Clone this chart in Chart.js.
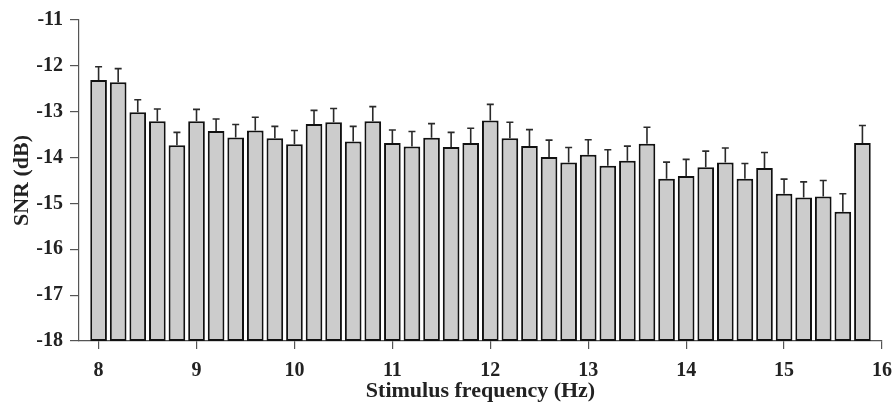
<!DOCTYPE html>
<html lang="en">
<head>
    <meta charset="UTF-8">
    <title>SNR by stimulus frequency</title>
    <script src="https://cdn.jsdelivr.net/npm/chart.js"></script>
    <style>
        html, body { margin: 0; padding: 0; background: #fff; }
        #wrap { width: 895px; height: 406px; position: relative; }
    </style>
</head>
<body>
    <div id="wrap"><canvas id="snrChart"></canvas></div>

    <script>
    // stimulus frequencies (Hz)
    const freqs = [8.0, 8.2, 8.4, 8.6, 8.8, 9.0, 9.2, 9.4, 9.6, 9.8,
                   10.0, 10.2, 10.4, 10.6, 10.8, 11.0, 11.2, 11.4, 11.6, 11.8,
                   12.0, 12.2, 12.4, 12.6, 12.8, 13.0, 13.2, 13.4, 13.6, 13.8,
                   14.0, 14.2, 14.4, 14.6, 14.8, 15.0, 15.2, 15.4, 15.6, 15.8];

    // mean SNR (dB)
    const snr = [-12.31, -12.36, -13.01, -13.21, -13.73, -13.21, -13.42, -13.56, -13.41, -13.58,
                 -13.71, -13.27, -13.23, -13.65, -13.21, -13.68, -13.76, -13.57, -13.77, -13.68,
                 -13.19, -13.58, -13.75, -13.99, -14.11, -13.94, -14.18, -14.07, -13.70, -14.46,
                 -14.40, -14.21, -14.11, -14.46, -14.23, -14.79, -14.87, -14.85, -15.18, -13.68];

    // standard error (dB), drawn upward only
    const sem = [0.29, 0.30, 0.27, 0.27, 0.28, 0.26, 0.26, 0.28, 0.29, 0.26,
                 0.30, 0.30, 0.30, 0.33, 0.32, 0.28, 0.33, 0.31, 0.32, 0.32,
                 0.35, 0.35, 0.36, 0.37, 0.33, 0.33, 0.35, 0.32, 0.36, 0.36,
                 0.36, 0.35, 0.32, 0.33, 0.34, 0.32, 0.34, 0.35, 0.39, 0.38];

    const yTicks = [-18, -17, -16, -15, -14, -13, -12, -11];
    const xTicks = [8, 9, 10, 11, 12, 13, 14, 15, 16];

    const yFloor = yTicks[0];
    const serif = "'Liberation Serif', 'Times New Roman', serif";

    const errorBars = {
        id: 'errorBars',
        afterDatasetsDraw(chart) {
            const ctx = chart.ctx;
            const yScale = chart.scales.y;
            const meta = chart.getDatasetMeta(0);
            ctx.save();
            ctx.strokeStyle = '#2a2a2a';
            ctx.lineWidth = 1.6;
            meta.data.forEach((bar, i) => {
                const top = yScale.getPixelForValue(snr[i]);
                const cap = yScale.getPixelForValue(snr[i] + sem[i]);
                ctx.beginPath();
                ctx.moveTo(bar.x, top);
                ctx.lineTo(bar.x, cap);
                ctx.moveTo(bar.x - 3.5, cap);
                ctx.lineTo(bar.x + 3.5, cap);
                ctx.stroke();
            });
            ctx.restore();
        }
    };

    new Chart(document.getElementById('snrChart'), {
        type: 'bar',
        data: {
            datasets: [{
                data: freqs.map((f, i) => ({ x: f, y: [yFloor, snr[i]] })),
                backgroundColor: '#cccccc',
                borderColor: '#111111',
                borderWidth: 2,
                borderSkipped: false,
                categoryPercentage: 1.0,
                barPercentage: 0.85
            }]
        },
        options: {
            responsive: true,
            maintainAspectRatio: false,
            animation: false,
            layout: { padding: { top: 20, right: 13, left: 0, bottom: 0 } },
            plugins: {
                legend: { display: false },
                tooltip: { enabled: false }
            },
            scales: {
                x: {
                    type: 'linear',
                    min: 7.8,
                    max: 16,
                    offset: false,
                    afterFit(scale) {
                        scale.height = 65;
                        scale.paddingLeft = 0;
                        scale.paddingRight = 0;
                    },
                    afterBuildTicks(scale) { scale.ticks = xTicks.map(v => ({ value: v })); },
                    grid: { offset: false, drawOnChartArea: false, drawTicks: true, tickLength: 8, color: '#555', lineWidth: 1.2 },
                    border: { color: '#555', width: 1.2 },
                    ticks: {
                        padding: 10,
                        color: '#222',
                        font: { family: serif, size: 20, weight: 'bold' }
                    },
                    title: {
                        display: true,
                        text: 'Stimulus frequency (Hz)',
                        color: '#222',
                        padding: { top: 0, bottom: 1 },
                        font: { family: serif, size: 22, weight: 'bold' }
                    }
                },
                y: {
                    min: -18,
                    max: -11,
                    afterFit(scale) { scale.width = 79; },
                    afterBuildTicks(scale) { scale.ticks = yTicks.map(v => ({ value: v })); },
                    grid: { drawOnChartArea: false, drawTicks: true, tickLength: 9, color: '#555', lineWidth: 1.2 },
                    border: { color: '#555', width: 1.2 },
                    ticks: {
                        padding: 7,
                        color: '#222',
                        font: { family: serif, size: 20, weight: 'bold' }
                    },
                    title: {
                        display: true,
                        text: 'SNR (dB)',
                        color: '#222',
                        padding: { top: 9, bottom: 0 },
                        font: { family: serif, size: 22, weight: 'bold' }
                    }
                }
            }
        },
        plugins: [errorBars]
    });
    </script>
</body>
</html>
